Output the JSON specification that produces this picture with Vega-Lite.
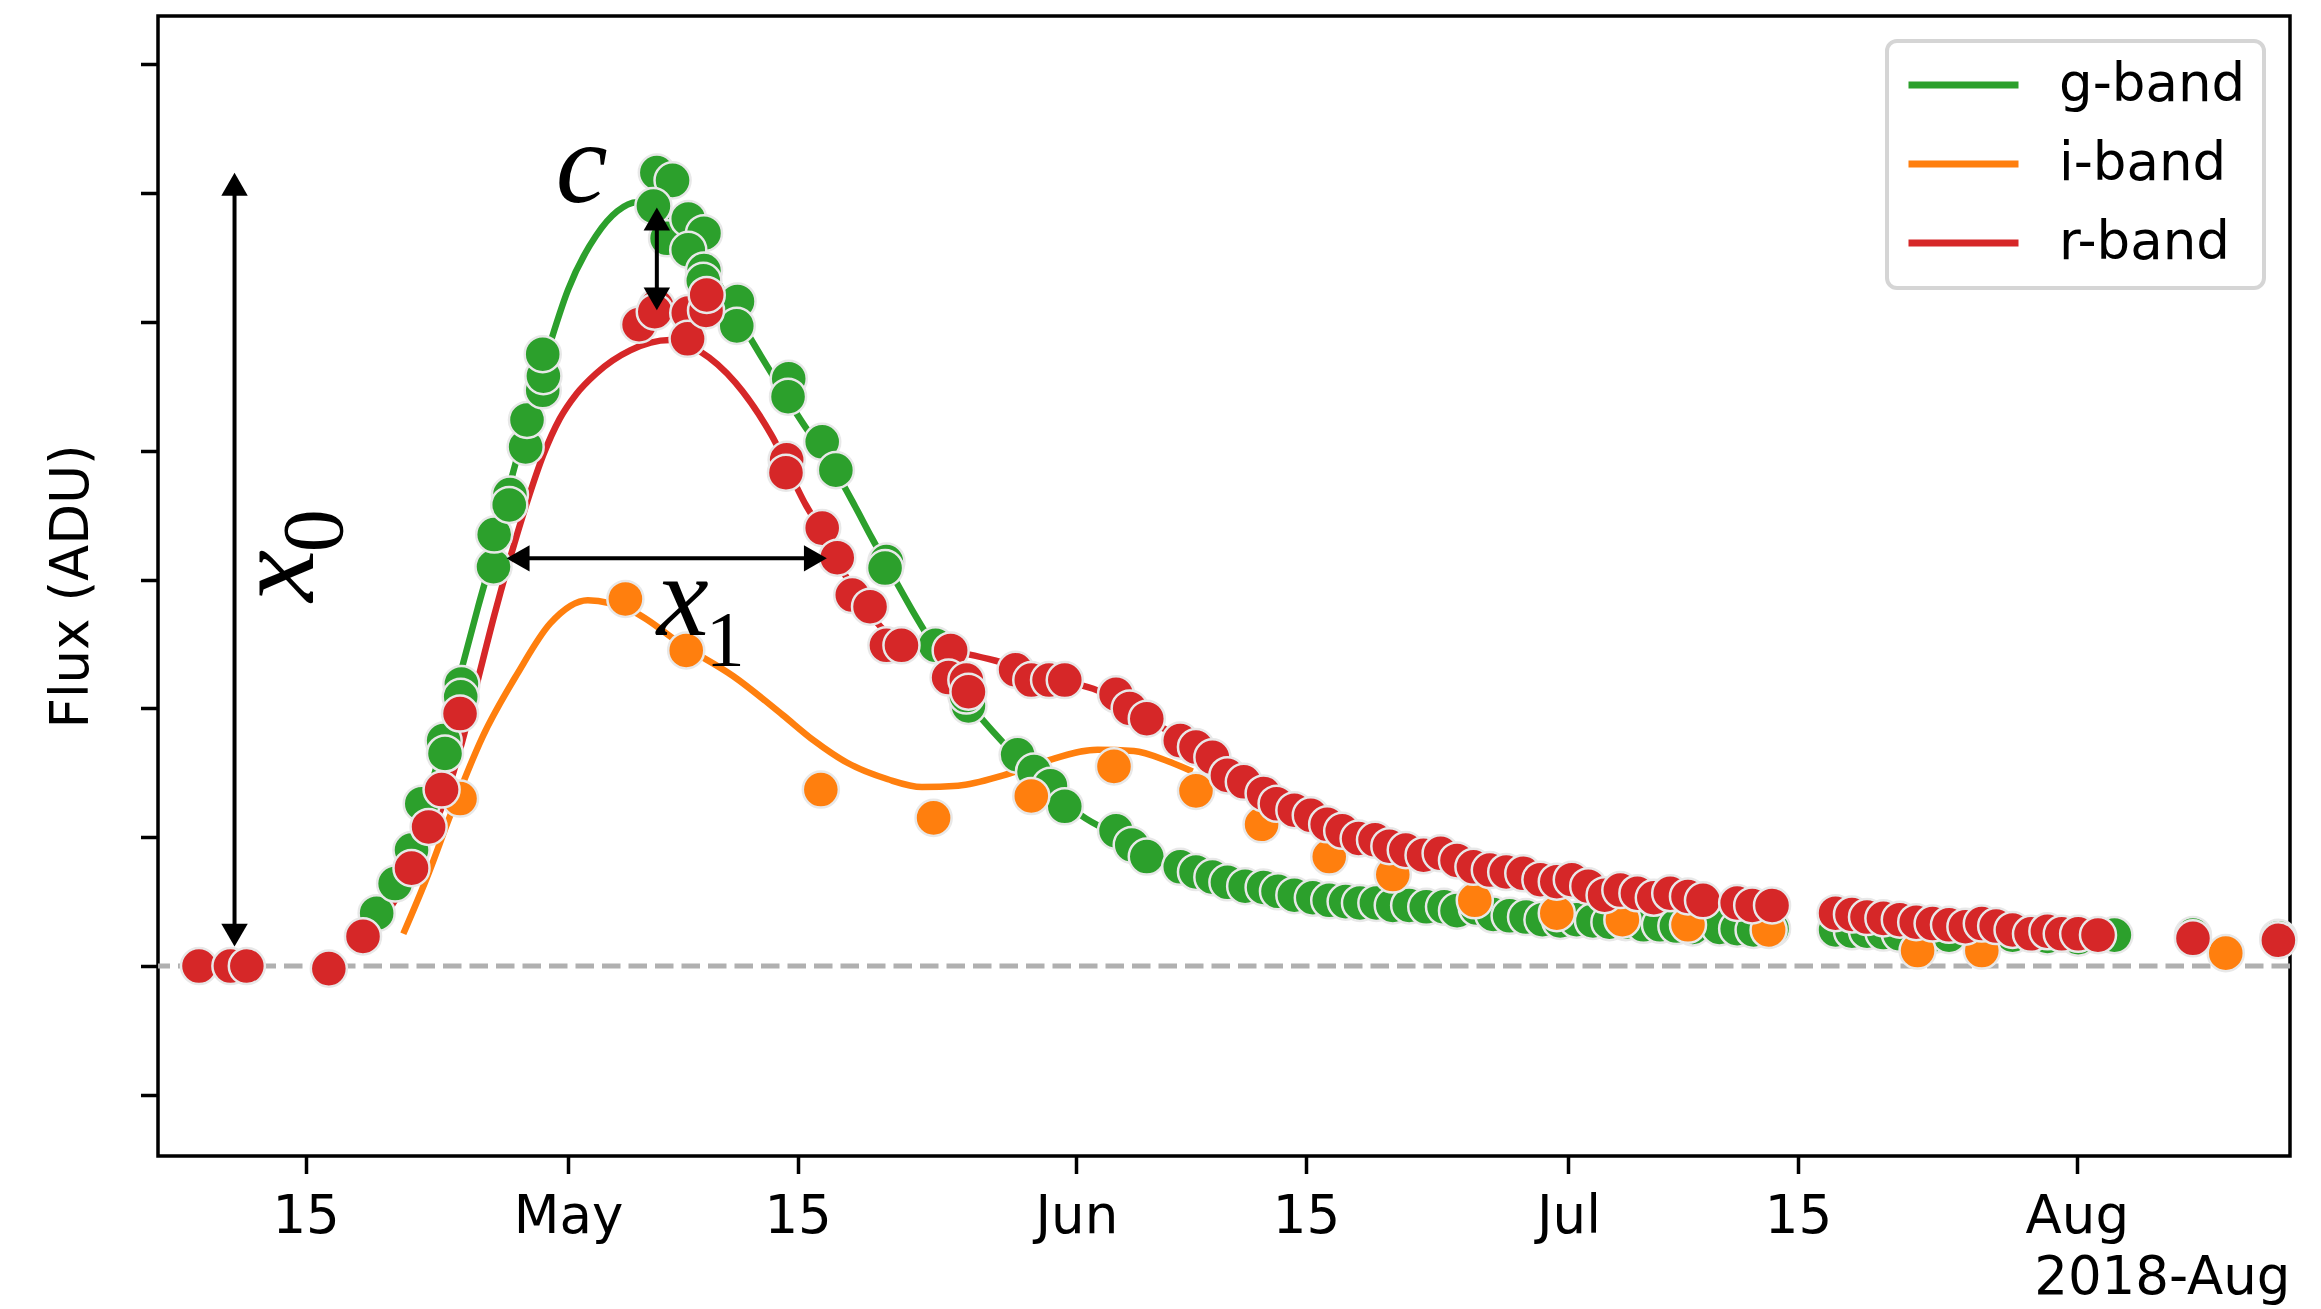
{
  "$schema": "https://vega.github.io/schema/vega-lite/v6.json",
  "width": 2132,
  "height": 1140,
  "autosize": {"type": "none"},
  "padding": {"left": 158, "top": 16, "right": 31, "bottom": 153},
  "background": "white",
  "config": {
    "font": "DejaVu Sans",
    "view": {"stroke": "black", "strokeWidth": 3.5},
    "axis": {"grid": false, "domain": false, "tickColor": "black", "tickWidth": 3.5, "tickSize": 17.5, "labelColor": "black", "titleColor": "black", "titleFontWeight": "normal", "titleFont": "DejaVu Sans", "labelFont": "DejaVu Sans"}
  },
  "datasets": {
    "obs": [
      {"band":"g-band","date":"2018-04-19T08:00","flux":0.41},
      {"band":"g-band","date":"2018-04-20T11:00","flux":0.64},
      {"band":"g-band","date":"2018-04-21T11:00","flux":0.90},
      {"band":"g-band","date":"2018-04-22T02:00","flux":1.26},
      {"band":"g-band","date":"2018-04-23T10:00","flux":1.75},
      {"band":"g-band","date":"2018-04-23T12:00","flux":1.65},
      {"band":"g-band","date":"2018-04-24T12:00","flux":2.19},
      {"band":"g-band","date":"2018-04-24T11:00","flux":2.09},
      {"band":"g-band","date":"2018-04-26T11:00","flux":3.10},
      {"band":"g-band","date":"2018-04-26T12:00","flux":3.35},
      {"band":"g-band","date":"2018-04-27T11:00","flux":3.66},
      {"band":"g-band","date":"2018-04-27T10:00","flux":3.58},
      {"band":"g-band","date":"2018-04-28T10:00","flux":4.03},
      {"band":"g-band","date":"2018-04-28T12:00","flux":4.24},
      {"band":"g-band","date":"2018-04-29T11:00","flux":4.47},
      {"band":"g-band","date":"2018-04-29T12:00","flux":4.58},
      {"band":"g-band","date":"2018-04-29T11:00","flux":4.75},
      {"band":"g-band","date":"2018-05-06T10:00","flux":6.16},
      {"band":"g-band","date":"2018-05-07T09:00","flux":6.10},
      {"band":"g-band","date":"2018-05-06T05:00","flux":5.90},
      {"band":"g-band","date":"2018-05-07T01:00","flux":5.65},
      {"band":"g-band","date":"2018-05-08T08:00","flux":5.80},
      {"band":"g-band","date":"2018-05-09T07:00","flux":5.69},
      {"band":"g-band","date":"2018-05-08T08:00","flux":5.56},
      {"band":"g-band","date":"2018-05-09T07:00","flux":5.40},
      {"band":"g-band","date":"2018-05-09T06:00","flux":5.32},
      {"band":"g-band","date":"2018-05-11T08:00","flux":5.16},
      {"band":"g-band","date":"2018-05-11T07:00","flux":4.97},
      {"band":"g-band","date":"2018-05-14T11:00","flux":4.56},
      {"band":"g-band","date":"2018-05-14T10:00","flux":4.42},
      {"band":"g-band","date":"2018-05-16T12:00","flux":4.07},
      {"band":"g-band","date":"2018-05-17T08:00","flux":3.85},
      {"band":"g-band","date":"2018-05-20T10:00","flux":3.14},
      {"band":"g-band","date":"2018-05-20T08:00","flux":3.09},
      {"band":"g-band","date":"2018-05-23T10:00","flux":2.49},
      {"band":"g-band","date":"2018-05-25T10:00","flux":2.02},
      {"band":"g-band","date":"2018-05-25T07:00","flux":2.10},
      {"band":"g-band","date":"2018-05-28T10:00","flux":1.64},
      {"band":"g-band","date":"2018-05-29T10:00","flux":1.51},
      {"band":"g-band","date":"2018-05-30T10:00","flux":1.40},
      {"band":"g-band","date":"2018-05-31T07:00","flux":1.24},
      {"band":"g-band","date":"2018-06-03T10:00","flux":1.05},
      {"band":"g-band","date":"2018-06-04T09:00","flux":0.94},
      {"band":"g-band","date":"2018-06-05T07:00","flux":0.85},
      {"band":"g-band","date":"2018-06-07T08:00","flux":0.77},
      {"band":"g-band","date":"2018-06-08T07:00","flux":0.73},
      {"band":"g-band","date":"2018-06-09T07:00","flux":0.69},
      {"band":"g-band","date":"2018-06-10T05:00","flux":0.65},
      {"band":"g-band","date":"2018-06-11T07:00","flux":0.62},
      {"band":"g-band","date":"2018-06-12T10:00","flux":0.61},
      {"band":"g-band","date":"2018-06-13T07:00","flux":0.58},
      {"band":"g-band","date":"2018-06-14T07:00","flux":0.55},
      {"band":"g-band","date":"2018-06-15T10:00","flux":0.53},
      {"band":"g-band","date":"2018-06-16T10:00","flux":0.51},
      {"band":"g-band","date":"2018-06-17T10:00","flux":0.50},
      {"band":"g-band","date":"2018-06-18T07:00","flux":0.49},
      {"band":"g-band","date":"2018-06-19T07:00","flux":0.49},
      {"band":"g-band","date":"2018-06-20T07:00","flux":0.47},
      {"band":"g-band","date":"2018-06-21T07:00","flux":0.47},
      {"band":"g-band","date":"2018-06-22T08:00","flux":0.46},
      {"band":"g-band","date":"2018-06-23T10:00","flux":0.46},
      {"band":"g-band","date":"2018-06-24T05:00","flux":0.43},
      {"band":"g-band","date":"2018-06-25T10:00","flux":0.45},
      {"band":"g-band","date":"2018-06-26T10:00","flux":0.40},
      {"band":"g-band","date":"2018-06-27T10:00","flux":0.39},
      {"band":"g-band","date":"2018-06-28T10:00","flux":0.38},
      {"band":"g-band","date":"2018-06-29T10:00","flux":0.36},
      {"band":"g-band","date":"2018-06-30T12:00","flux":0.35},
      {"band":"g-band","date":"2018-07-01T12:00","flux":0.36},
      {"band":"g-band","date":"2018-07-02T12:00","flux":0.35},
      {"band":"g-band","date":"2018-07-03T12:00","flux":0.34},
      {"band":"g-band","date":"2018-07-04T12:00","flux":0.34},
      {"band":"g-band","date":"2018-07-05T14:00","flux":0.32},
      {"band":"g-band","date":"2018-07-06T14:00","flux":0.32},
      {"band":"g-band","date":"2018-07-07T14:00","flux":0.31},
      {"band":"g-band","date":"2018-07-08T14:00","flux":0.30},
      {"band":"g-band","date":"2018-07-10T05:00","flux":0.30},
      {"band":"g-band","date":"2018-07-11T07:00","flux":0.29},
      {"band":"g-band","date":"2018-07-12T07:00","flux":0.28},
      {"band":"g-band","date":"2018-07-13T10:00","flux":0.29},
      {"band":"g-band","date":"2018-07-17T07:00","flux":0.28},
      {"band":"g-band","date":"2018-07-18T07:00","flux":0.27},
      {"band":"g-band","date":"2018-07-19T05:00","flux":0.27},
      {"band":"g-band","date":"2018-07-20T05:00","flux":0.26},
      {"band":"g-band","date":"2018-07-21T05:00","flux":0.25},
      {"band":"g-band","date":"2018-07-23T05:00","flux":0.24},
      {"band":"g-band","date":"2018-07-24T05:00","flux":0.24},
      {"band":"g-band","date":"2018-07-26T05:00","flux":0.24},
      {"band":"g-band","date":"2018-07-28T02:00","flux":0.24},
      {"band":"g-band","date":"2018-07-30T05:00","flux":0.23},
      {"band":"g-band","date":"2018-08-01T02:00","flux":0.22},
      {"band":"g-band","date":"2018-08-03T07:00","flux":0.24},
      {"band":"g-band","date":"2018-08-08T02:00","flux":0.24},
      {"band":"g-band","date":"2018-08-13T07:00","flux":0.22},
      {"band":"i-band","date":"2018-04-24T10:00","flux":1.30},
      {"band":"i-band","date":"2018-05-04T12:00","flux":2.85},
      {"band":"i-band","date":"2018-05-08T05:00","flux":2.45},
      {"band":"i-band","date":"2018-05-16T10:00","flux":1.37},
      {"band":"i-band","date":"2018-05-23T07:00","flux":1.15},
      {"band":"i-band","date":"2018-05-29T06:00","flux":1.32},
      {"band":"i-band","date":"2018-06-03T07:00","flux":1.55},
      {"band":"i-band","date":"2018-06-08T07:00","flux":1.36},
      {"band":"i-band","date":"2018-06-12T07:00","flux":1.10},
      {"band":"i-band","date":"2018-06-16T10:00","flux":0.85},
      {"band":"i-band","date":"2018-06-20T07:00","flux":0.71},
      {"band":"i-band","date":"2018-06-25T07:00","flux":0.51},
      {"band":"i-band","date":"2018-06-30T07:00","flux":0.41},
      {"band":"i-band","date":"2018-07-04T07:00","flux":0.36},
      {"band":"i-band","date":"2018-07-08T07:00","flux":0.32},
      {"band":"i-band","date":"2018-07-13T05:00","flux":0.28},
      {"band":"i-band","date":"2018-07-22T07:00","flux":0.12},
      {"band":"i-band","date":"2018-07-26T05:00","flux":0.12},
      {"band":"i-band","date":"2018-08-10T02:00","flux":0.10},
      {"band":"r-band","date":"2018-04-08T12:00","flux":0.0},
      {"band":"r-band","date":"2018-04-10T10:00","flux":0.0},
      {"band":"r-band","date":"2018-04-11T10:00","flux":0.0},
      {"band":"r-band","date":"2018-04-16T10:00","flux":-0.02},
      {"band":"r-band","date":"2018-04-18T12:00","flux":0.23},
      {"band":"r-band","date":"2018-04-21T11:00","flux":0.76},
      {"band":"r-band","date":"2018-04-22T12:00","flux":1.08},
      {"band":"r-band","date":"2018-04-23T07:00","flux":1.37},
      {"band":"r-band","date":"2018-04-24T10:00","flux":1.96},
      {"band":"r-band","date":"2018-05-05T08:00","flux":4.98},
      {"band":"r-band","date":"2018-05-06T10:00","flux":5.12},
      {"band":"r-band","date":"2018-05-06T07:00","flux":5.08},
      {"band":"r-band","date":"2018-05-08T08:00","flux":5.07},
      {"band":"r-band","date":"2018-05-08T07:00","flux":4.87},
      {"band":"r-band","date":"2018-05-09T10:00","flux":5.09},
      {"band":"r-band","date":"2018-05-09T11:00","flux":5.21},
      {"band":"r-band","date":"2018-05-14T08:00","flux":3.93},
      {"band":"r-band","date":"2018-05-14T07:00","flux":3.83},
      {"band":"r-band","date":"2018-05-16T12:00","flux":3.40},
      {"band":"r-band","date":"2018-05-17T10:00","flux":3.17},
      {"band":"r-band","date":"2018-05-18T08:00","flux":2.88},
      {"band":"r-band","date":"2018-05-19T10:00","flux":2.79},
      {"band":"r-band","date":"2018-05-20T10:00","flux":2.49},
      {"band":"r-band","date":"2018-05-21T08:00","flux":2.49},
      {"band":"r-band","date":"2018-05-24T08:00","flux":2.45},
      {"band":"r-band","date":"2018-05-24T05:00","flux":2.24},
      {"band":"r-band","date":"2018-05-25T07:00","flux":2.22},
      {"band":"r-band","date":"2018-05-25T10:00","flux":2.13},
      {"band":"r-band","date":"2018-05-28T07:00","flux":2.30},
      {"band":"r-band","date":"2018-05-29T06:00","flux":2.22},
      {"band":"r-band","date":"2018-05-30T08:00","flux":2.22},
      {"band":"r-band","date":"2018-05-31T07:00","flux":2.22},
      {"band":"r-band","date":"2018-06-03T10:00","flux":2.11},
      {"band":"r-band","date":"2018-06-04T06:00","flux":2.00},
      {"band":"r-band","date":"2018-06-05T07:00","flux":1.92},
      {"band":"r-band","date":"2018-06-07T08:00","flux":1.75},
      {"band":"r-band","date":"2018-06-08T07:00","flux":1.70},
      {"band":"r-band","date":"2018-06-09T07:00","flux":1.62},
      {"band":"r-band","date":"2018-06-10T05:00","flux":1.48},
      {"band":"r-band","date":"2018-06-11T05:00","flux":1.43},
      {"band":"r-band","date":"2018-06-12T10:00","flux":1.34},
      {"band":"r-band","date":"2018-06-13T05:00","flux":1.26},
      {"band":"r-band","date":"2018-06-14T07:00","flux":1.21},
      {"band":"r-band","date":"2018-06-15T07:00","flux":1.17},
      {"band":"r-band","date":"2018-06-16T07:00","flux":1.10},
      {"band":"r-band","date":"2018-06-17T05:00","flux":1.05},
      {"band":"r-band","date":"2018-06-18T05:00","flux":0.99},
      {"band":"r-band","date":"2018-06-19T05:00","flux":0.98},
      {"band":"r-band","date":"2018-06-20T02:00","flux":0.93},
      {"band":"r-band","date":"2018-06-21T02:00","flux":0.90},
      {"band":"r-band","date":"2018-06-22T04:00","flux":0.86},
      {"band":"r-band","date":"2018-06-23T05:00","flux":0.875},
      {"band":"r-band","date":"2018-06-24T05:00","flux":0.82},
      {"band":"r-band","date":"2018-06-25T05:00","flux":0.77},
      {"band":"r-band","date":"2018-06-26T05:00","flux":0.745},
      {"band":"r-band","date":"2018-06-27T05:00","flux":0.73},
      {"band":"r-band","date":"2018-06-28T06:00","flux":0.72},
      {"band":"r-band","date":"2018-06-29T07:00","flux":0.67},
      {"band":"r-band","date":"2018-06-30T07:00","flux":0.655},
      {"band":"r-band","date":"2018-07-01T05:00","flux":0.67},
      {"band":"r-band","date":"2018-07-02T05:00","flux":0.62},
      {"band":"r-band","date":"2018-07-03T05:00","flux":0.55},
      {"band":"r-band","date":"2018-07-04T04:00","flux":0.59},
      {"band":"r-band","date":"2018-07-05T05:00","flux":0.565},
      {"band":"r-band","date":"2018-07-06T05:00","flux":0.53},
      {"band":"r-band","date":"2018-07-07T05:00","flux":0.565},
      {"band":"r-band","date":"2018-07-08T07:00","flux":0.54},
      {"band":"r-band","date":"2018-07-09T05:00","flux":0.51},
      {"band":"r-band","date":"2018-07-11T07:00","flux":0.49},
      {"band":"r-band","date":"2018-07-12T05:00","flux":0.47},
      {"band":"r-band","date":"2018-07-13T10:00","flux":0.47},
      {"band":"r-band","date":"2018-07-17T07:00","flux":0.41},
      {"band":"r-band","date":"2018-07-18T07:00","flux":0.40},
      {"band":"r-band","date":"2018-07-19T05:00","flux":0.38},
      {"band":"r-band","date":"2018-07-20T05:00","flux":0.37},
      {"band":"r-band","date":"2018-07-21T05:00","flux":0.36},
      {"band":"r-band","date":"2018-07-22T05:00","flux":0.34},
      {"band":"r-band","date":"2018-07-23T05:00","flux":0.33},
      {"band":"r-band","date":"2018-07-24T05:00","flux":0.32},
      {"band":"r-band","date":"2018-07-25T05:00","flux":0.305},
      {"band":"r-band","date":"2018-07-26T05:00","flux":0.33},
      {"band":"r-band","date":"2018-07-27T02:00","flux":0.31},
      {"band":"r-band","date":"2018-07-28T02:00","flux":0.28},
      {"band":"r-band","date":"2018-07-29T05:00","flux":0.25},
      {"band":"r-band","date":"2018-07-30T05:00","flux":0.27},
      {"band":"r-band","date":"2018-07-31T02:00","flux":0.25},
      {"band":"r-band","date":"2018-08-01T02:00","flux":0.25},
      {"band":"r-band","date":"2018-08-02T07:00","flux":0.24},
      {"band":"r-band","date":"2018-08-08T02:00","flux":0.215},
      {"band":"r-band","date":"2018-08-13T07:00","flux":0.20}
    ],
    "fits": [
      {"band":"g-band","date":"2018-04-18T00:00","flux":0.12},
      {"band":"g-band","date":"2018-04-19T12:00","flux":0.45},
      {"band":"g-band","date":"2018-04-21T00:00","flux":0.82},
      {"band":"g-band","date":"2018-04-22T12:00","flux":1.33},
      {"band":"g-band","date":"2018-04-23T12:00","flux":1.80},
      {"band":"g-band","date":"2018-04-24T12:00","flux":2.30},
      {"band":"g-band","date":"2018-04-25T12:00","flux":2.78},
      {"band":"g-band","date":"2018-04-26T12:00","flux":3.24},
      {"band":"g-band","date":"2018-04-27T12:00","flux":3.76},
      {"band":"g-band","date":"2018-04-28T12:00","flux":4.22},
      {"band":"g-band","date":"2018-04-29T17:00","flux":4.75},
      {"band":"g-band","date":"2018-05-01T00:00","flux":5.25},
      {"band":"g-band","date":"2018-05-02T17:00","flux":5.67},
      {"band":"g-band","date":"2018-05-04T00:00","flux":5.86},
      {"band":"g-band","date":"2018-05-05T05:00","flux":5.93},
      {"band":"g-band","date":"2018-05-06T05:00","flux":5.90},
      {"band":"g-band","date":"2018-05-07T00:00","flux":5.82},
      {"band":"g-band","date":"2018-05-08T05:00","flux":5.65},
      {"band":"g-band","date":"2018-05-09T17:00","flux":5.40},
      {"band":"g-band","date":"2018-05-11T05:00","flux":5.07},
      {"band":"g-band","date":"2018-05-13T10:00","flux":4.60},
      {"band":"g-band","date":"2018-05-15T12:00","flux":4.18},
      {"band":"g-band","date":"2018-05-16T12:00","flux":4.00},
      {"band":"g-band","date":"2018-05-17T12:00","flux":3.80},
      {"band":"g-band","date":"2018-05-18T12:00","flux":3.57},
      {"band":"g-band","date":"2018-05-19T12:00","flux":3.33},
      {"band":"g-band","date":"2018-05-20T12:00","flux":3.10},
      {"band":"g-band","date":"2018-05-22T00:00","flux":2.76},
      {"band":"g-band","date":"2018-05-23T10:00","flux":2.46},
      {"band":"g-band","date":"2018-05-25T10:00","flux":2.05},
      {"band":"g-band","date":"2018-05-27T19:00","flux":1.70},
      {"band":"g-band","date":"2018-05-30T10:00","flux":1.38},
      {"band":"g-band","date":"2018-06-01T07:00","flux":1.17},
      {"band":"g-band","date":"2018-06-03T10:00","flux":1.02},
      {"band":"g-band","date":"2018-06-06T00:00","flux":0.85},
      {"band":"g-band","date":"2018-06-09T00:00","flux":0.70},
      {"band":"g-band","date":"2018-06-12T00:00","flux":0.61},
      {"band":"g-band","date":"2018-06-15T00:00","flux":0.54},
      {"band":"g-band","date":"2018-06-19T00:00","flux":0.48},
      {"band":"g-band","date":"2018-06-24T00:00","flux":0.44},
      {"band":"g-band","date":"2018-06-29T00:00","flux":0.38},
      {"band":"g-band","date":"2018-07-04T00:00","flux":0.34},
      {"band":"g-band","date":"2018-07-09T00:00","flux":0.31},
      {"band":"g-band","date":"2018-07-13T12:00","flux":0.29},
      {"band":"i-band","date":"2018-04-20T23:00","flux":0.25},
      {"band":"i-band","date":"2018-04-22T12:00","flux":0.72},
      {"band":"i-band","date":"2018-04-23T19:00","flux":1.16},
      {"band":"i-band","date":"2018-04-25T19:00","flux":1.78},
      {"band":"i-band","date":"2018-04-27T22:00","flux":2.27},
      {"band":"i-band","date":"2018-04-29T22:00","flux":2.66},
      {"band":"i-band","date":"2018-05-02T05:00","flux":2.84},
      {"band":"i-band","date":"2018-05-05T00:00","flux":2.75},
      {"band":"i-band","date":"2018-05-08T00:00","flux":2.49},
      {"band":"i-band","date":"2018-05-11T02:00","flux":2.25},
      {"band":"i-band","date":"2018-05-14T02:00","flux":1.95},
      {"band":"i-band","date":"2018-05-16T00:00","flux":1.75},
      {"band":"i-band","date":"2018-05-18T00:00","flux":1.58},
      {"band":"i-band","date":"2018-05-20T12:00","flux":1.45},
      {"band":"i-band","date":"2018-05-22T14:00","flux":1.39},
      {"band":"i-band","date":"2018-05-24T19:00","flux":1.40},
      {"band":"i-band","date":"2018-05-27T13:00","flux":1.48},
      {"band":"i-band","date":"2018-05-30T02:00","flux":1.59},
      {"band":"i-band","date":"2018-06-02T07:00","flux":1.68},
      {"band":"i-band","date":"2018-06-04T12:00","flux":1.67},
      {"band":"i-band","date":"2018-06-06T14:00","flux":1.59},
      {"band":"i-band","date":"2018-06-08T02:00","flux":1.51},
      {"band":"r-band","date":"2018-04-18T12:00","flux":0.15},
      {"band":"r-band","date":"2018-04-20T00:00","flux":0.42},
      {"band":"r-band","date":"2018-04-21T12:00","flux":0.74},
      {"band":"r-band","date":"2018-04-22T12:00","flux":1.00},
      {"band":"r-band","date":"2018-04-23T12:00","flux":1.30},
      {"band":"r-band","date":"2018-04-24T12:00","flux":1.72},
      {"band":"r-band","date":"2018-04-25T12:00","flux":2.22},
      {"band":"r-band","date":"2018-04-26T12:00","flux":2.72},
      {"band":"r-band","date":"2018-04-27T12:00","flux":3.18},
      {"band":"r-band","date":"2018-04-28T12:00","flux":3.60},
      {"band":"r-band","date":"2018-04-29T12:00","flux":3.97},
      {"band":"r-band","date":"2018-04-30T12:00","flux":4.25},
      {"band":"r-band","date":"2018-05-01T12:00","flux":4.44},
      {"band":"r-band","date":"2018-05-02T17:00","flux":4.60},
      {"band":"r-band","date":"2018-05-04T19:00","flux":4.78},
      {"band":"r-band","date":"2018-05-07T05:00","flux":4.86},
      {"band":"r-band","date":"2018-05-09T02:00","flux":4.77},
      {"band":"r-band","date":"2018-05-11T05:00","flux":4.53},
      {"band":"r-band","date":"2018-05-13T10:00","flux":4.12},
      {"band":"r-band","date":"2018-05-15T12:00","flux":3.58},
      {"band":"r-band","date":"2018-05-16T12:00","flux":3.37},
      {"band":"r-band","date":"2018-05-17T12:00","flux":3.13},
      {"band":"r-band","date":"2018-05-18T12:00","flux":2.90},
      {"band":"r-band","date":"2018-05-19T12:00","flux":2.72},
      {"band":"r-band","date":"2018-05-20T12:00","flux":2.58},
      {"band":"r-band","date":"2018-05-21T12:00","flux":2.51},
      {"band":"r-band","date":"2018-05-23T00:00","flux":2.47},
      {"band":"r-band","date":"2018-05-25T10:00","flux":2.42},
      {"band":"r-band","date":"2018-05-27T02:00","flux":2.37},
      {"band":"r-band","date":"2018-05-29T00:00","flux":2.30},
      {"band":"r-band","date":"2018-05-31T00:00","flux":2.22},
      {"band":"r-band","date":"2018-06-02T07:00","flux":2.14},
      {"band":"r-band","date":"2018-06-04T00:00","flux":2.03},
      {"band":"r-band","date":"2018-06-06T00:00","flux":1.87},
      {"band":"r-band","date":"2018-06-08T00:00","flux":1.72},
      {"band":"r-band","date":"2018-06-10T00:00","flux":1.55},
      {"band":"r-band","date":"2018-06-12T00:00","flux":1.38},
      {"band":"r-band","date":"2018-06-14T00:00","flux":1.25},
      {"band":"r-band","date":"2018-06-16T00:00","flux":1.12},
      {"band":"r-band","date":"2018-06-18T00:00","flux":1.02},
      {"band":"r-band","date":"2018-06-20T00:00","flux":0.94},
      {"band":"r-band","date":"2018-06-22T00:00","flux":0.87},
      {"band":"r-band","date":"2018-06-24T00:00","flux":0.81},
      {"band":"r-band","date":"2018-06-26T00:00","flux":0.76},
      {"band":"r-band","date":"2018-06-28T00:00","flux":0.71},
      {"band":"r-band","date":"2018-06-30T00:00","flux":0.66},
      {"band":"r-band","date":"2018-07-02T00:00","flux":0.62},
      {"band":"r-band","date":"2018-07-04T00:00","flux":0.58},
      {"band":"r-band","date":"2018-07-06T00:00","flux":0.55},
      {"band":"r-band","date":"2018-07-08T00:00","flux":0.53},
      {"band":"r-band","date":"2018-07-10T00:00","flux":0.50},
      {"band":"r-band","date":"2018-07-13T12:00","flux":0.46}
    ],
    "vArrows": [
      {"name":"x0","date":"2018-04-10T16:00","flux":0.24,"flux2":6.07},
      {"name":"c","date":"2018-05-06T10:00","flux":5.18,"flux2":5.80}
    ],
    "hArrows": [
      {"name":"x1","date":"2018-04-27T23:00","date2":"2018-05-16T02:00","flux":3.165}
    ],
    "heads": [
      {"date":"2018-04-10T16:00","flux":6.07,"dir":"up"},
      {"date":"2018-04-10T16:00","flux":0.24,"dir":"down"},
      {"date":"2018-05-06T10:00","flux":5.80,"dir":"up"},
      {"date":"2018-05-06T10:00","flux":5.18,"dir":"down"},
      {"date":"2018-04-27T23:00","flux":3.165,"dir":"left"},
      {"date":"2018-05-16T02:00","flux":3.165,"dir":"right"}
    ],
    "symbols": [
      {"label":"c","date":"2018-05-01T20:00","flux":5.93},
      {"label":"x","date":"2018-05-08T00:00","flux":2.57}
    ],
    "subs": [
      {"label":"1","date":"2018-05-10T14:00","flux":2.34}
    ],
    "rotSymbols": [
      {"label":"x","date":"2018-04-15T11:00","flux":3.03}
    ],
    "rotSubs": [
      {"label":"0","date":"2018-04-17T05:00","flux":3.38}
    ],
    "zero": [{"flux":0}]
  },
  "layer": [
    {
      "data": {"name": "zero"},
      "mark": {"type": "rule", "color": "#b0b0b0", "strokeWidth": 5, "strokeDash": [18.5, 8]},
      "encoding": {
        "y": {"field": "flux", "type": "quantitative", "scale": {"domain": [-1.475, 7.376], "nice": false, "zero": false}}
      }
    },
    {
      "data": {"name": "fits"},
      "mark": {"type": "line", "interpolate": "monotone", "strokeWidth": 6.5},
      "encoding": {
        "x": {"field": "date", "type": "temporal", "scale": {"domain": [{"year":2018,"month":"apr","date":6},{"year":2018,"month":"aug","date":14}]},
          "axis": {"title": "2018-Aug", "titleAnchor": "end", "titleAlign": "right", "titleFontSize": 53, "titlePadding": 8,
            "values": [{"year":2018,"month":"apr","date":15},{"year":2018,"month":"may","date":1},{"year":2018,"month":"may","date":15},{"year":2018,"month":"jun","date":1},{"year":2018,"month":"jun","date":15},{"year":2018,"month":"jul","date":1},{"year":2018,"month":"jul","date":15},{"year":2018,"month":"aug","date":1}],
            "labelExpr": "date(datum.value) == 1 ? timeFormat(datum.value, '%b') : timeFormat(datum.value, '%d')",
            "labelFontSize": 53, "labelPadding": 17, "labelFlush": false, "labelOverlap": false}},
        "y": {"field": "flux", "type": "quantitative", "scale": {"domain": [-1.475, 7.376], "nice": false, "zero": false},
          "axis": {"title": "Flux (ADU)", "titleFontSize": 53, "values": [-1,0,1,2,3,4,5,6,7], "labels": false, "labelPadding": 0, "titlePadding": 51, "titleBaseline": "alphabetic"}},
        "color": {"field": "band", "type": "nominal",
          "scale": {"domain": ["g-band","i-band","r-band"], "range": ["#2ca02c","#ff7f0e","#d62728"]},
          "legend": {"orient": "none", "legendX": 1729, "legendY": 25, "title": null, "symbolType": "stroke", "symbolSize": 12100, "symbolStrokeWidth": 7,
            "clipHeight": 52,
            "labelFontSize": 53, "labelFont": "DejaVu Sans", "labelColor": "black", "labelOffset": 37, "rowPadding": 26, "padding": 18,
            "strokeColor": "#d5d5d5", "cornerRadius": 10, "fillColor": "white", "labelLimit": 600,
            "encode": {"legend": {"update": {"strokeWidth": {"value": 4}}}}}}
      }
    },
    {
      "data": {"name": "obs"},
      "mark": {"type": "circle", "size": 1300, "opacity": 1, "stroke": "#e8e8e8", "strokeWidth": 2.5},
      "encoding": {
        "x": {"field": "date", "type": "temporal", "scale": {"domain": [{"year":2018,"month":"apr","date":6},{"year":2018,"month":"aug","date":14}]}},
        "y": {"field": "flux", "type": "quantitative", "scale": {"domain": [-1.475, 7.376], "nice": false, "zero": false}},
        "color": {"field": "band", "type": "nominal", "scale": {"domain": ["g-band","i-band","r-band"], "range": ["#2ca02c","#ff7f0e","#d62728"]}, "legend": null}
      }
    },
    {
      "data": {"name": "vArrows"},
      "mark": {"type": "rule", "color": "black", "strokeWidth": 4},
      "encoding": {
        "x": {"field": "date", "type": "temporal", "scale": {"domain": [{"year":2018,"month":"apr","date":6},{"year":2018,"month":"aug","date":14}]}},
        "y": {"field": "flux", "type": "quantitative", "scale": {"domain": [-1.475, 7.376], "nice": false, "zero": false}},
        "y2": {"field": "flux2"}
      }
    },
    {
      "data": {"name": "hArrows"},
      "mark": {"type": "rule", "color": "black", "strokeWidth": 4},
      "encoding": {
        "x": {"field": "date", "type": "temporal", "scale": {"domain": [{"year":2018,"month":"apr","date":6},{"year":2018,"month":"aug","date":14}]}},
        "x2": {"field": "date2"},
        "y": {"field": "flux", "type": "quantitative", "scale": {"domain": [-1.475, 7.376], "nice": false, "zero": false}}
      }
    },
    {
      "data": {"name": "heads"},
      "mark": {"type": "point", "filled": true, "color": "black", "opacity": 1, "size": 700, "strokeWidth": 0},
      "encoding": {
        "x": {"field": "date", "type": "temporal", "scale": {"domain": [{"year":2018,"month":"apr","date":6},{"year":2018,"month":"aug","date":14}]}},
        "y": {"field": "flux", "type": "quantitative", "scale": {"domain": [-1.475, 7.376], "nice": false, "zero": false}},
        "shape": {"field": "dir", "type": "nominal", "scale": {"domain": ["up","down","left","right"], "range": ["triangle-up","triangle-down","triangle-left","triangle-right"]}, "legend": null}
      }
    },
    {
      "data": {"name": "symbols"},
      "mark": {"type": "text", "font": "Liberation Serif", "fontStyle": "italic", "fontSize": 117, "color": "black", "align": "center", "baseline": "alphabetic"},
      "encoding": {
        "x": {"field": "date", "type": "temporal", "scale": {"domain": [{"year":2018,"month":"apr","date":6},{"year":2018,"month":"aug","date":14}]}},
        "y": {"field": "flux", "type": "quantitative", "scale": {"domain": [-1.475, 7.376], "nice": false, "zero": false}},
        "text": {"field": "label"}
      }
    },
    {
      "data": {"name": "subs"},
      "mark": {"type": "text", "font": "Liberation Serif", "fontSize": 78, "color": "black", "align": "center", "baseline": "alphabetic"},
      "encoding": {
        "x": {"field": "date", "type": "temporal", "scale": {"domain": [{"year":2018,"month":"apr","date":6},{"year":2018,"month":"aug","date":14}]}},
        "y": {"field": "flux", "type": "quantitative", "scale": {"domain": [-1.475, 7.376], "nice": false, "zero": false}},
        "text": {"field": "label"}
      }
    },
    {
      "data": {"name": "rotSymbols"},
      "mark": {"type": "text", "font": "Liberation Serif", "fontStyle": "italic", "fontSize": 117, "color": "black", "align": "center", "baseline": "alphabetic", "angle": 270},
      "encoding": {
        "x": {"field": "date", "type": "temporal", "scale": {"domain": [{"year":2018,"month":"apr","date":6},{"year":2018,"month":"aug","date":14}]}},
        "y": {"field": "flux", "type": "quantitative", "scale": {"domain": [-1.475, 7.376], "nice": false, "zero": false}},
        "text": {"field": "label"}
      }
    },
    {
      "data": {"name": "rotSubs"},
      "mark": {"type": "text", "font": "Liberation Serif", "fontSize": 86, "color": "black", "align": "center", "baseline": "alphabetic", "angle": 270},
      "encoding": {
        "x": {"field": "date", "type": "temporal", "scale": {"domain": [{"year":2018,"month":"apr","date":6},{"year":2018,"month":"aug","date":14}]}},
        "y": {"field": "flux", "type": "quantitative", "scale": {"domain": [-1.475, 7.376], "nice": false, "zero": false}},
        "text": {"field": "label"}
      }
    }
  ],
  "resolve": {"legend": {"color": "independent"}}
}
